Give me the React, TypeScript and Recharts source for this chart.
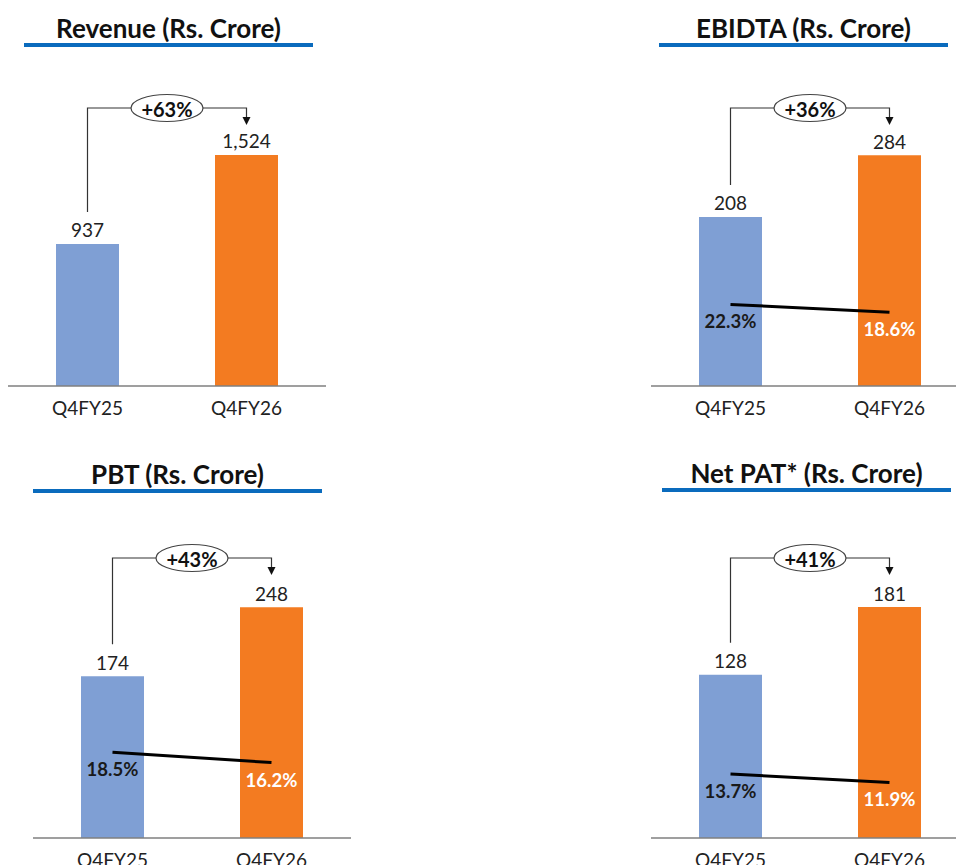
import {
  Bar,
  Cell,
  ComposedChart,
  LabelList,
  Line,
  ReferenceLine,
  XAxis,
  YAxis,
} from "recharts";

const categories = ["Q4FY25", "Q4FY26"];

const revenue = [937, 1524];
const ebitda = [208, 284];
const pbt = [174, 248];
const pat = [128, 181];

const ebitdaMargin = [22.3, 18.6];
const pbtMargin = [18.5, 16.2];
const patMargin = [13.7, 11.9];

const growthLabels = ["+63%", "+36%", "+43%", "+41%"];
const titles = [
  "Revenue (Rs. Crore)",
  "EBIDTA (Rs. Crore)",
  "PBT (Rs. Crore)",
  "Net PAT* (Rs. Crore)",
];

const barColors = ["#7F9FD4", "#F37B21"];
const FONT = "Lato, 'Open Sans', sans-serif";

type PanelProps = {
  title: string;
  values: number[];
  margins?: number[];
  growth: string;
  left: number;
  top: number;
  width: number;
  height: number;
  ml: number;
  mr: number;
  mb: number;
  max: number;
  marginDomain?: [number, number];
  titleLeft: number;
  titleTop: number;
};

function pos(props: any) {
  const vb = props.viewBox || {};
  return {
    x: props.x ?? vb.x ?? 0,
    y: props.y ?? vb.y ?? 0,
    width: props.width ?? vb.width ?? 0,
  };
}

function ValueLabel(props: any) {
  const { x, y, width } = pos(props);
  return (
    <text
      x={x + width / 2}
      y={y - 14}
      textAnchor="middle"
      dominantBaseline="central"
      fontSize={19}
      fill="#222"
      fontFamily={FONT}
    >
      {Number(props.value).toLocaleString("en-US")}
    </text>
  );
}

function MarginLabel(props: any) {
  const { x, y } = pos(props);
  return (
    <text
      x={x}
      y={y + 17}
      textAnchor="middle"
      dominantBaseline="central"
      fontSize={18.5}
      fontWeight="bold"
      fill={props.index === 0 ? "#1a1a1a" : "#ffffff"}
      fontFamily={FONT}
    >
      {Number(props.value).toFixed(1)}%
    </text>
  );
}

function CategoryTick(props: any) {
  return (
    <text
      x={props.x}
      y={props.y + 21}
      textAnchor="middle"
      dominantBaseline="central"
      fontSize={19}
      fill="#222"
      fontFamily={FONT}
    >
      {props.payload.value}
    </text>
  );
}

// bracket from the first bar up and over to the second one, with the growth bubble
function Bracket(props: any) {
  const { x1, y1, x2, y2, label } = props;
  const mid = (x1 + x2) / 2;
  return (
    <g>
      <polyline
        points={`${x1},${y1 - 32} ${x1},${y2} ${x2},${y2} ${x2},${y2 + 9}`}
        fill="none"
        stroke="#333"
        strokeWidth={1.2}
      />
      <polygon
        points={`${x2 - 4},${y2 + 9} ${x2 + 4},${y2 + 9} ${x2},${y2 + 17}`}
        fill="#111"
      />
      <ellipse
        cx={mid}
        cy={y2}
        rx={36}
        ry={13.5}
        fill="#fff"
        stroke="#444"
        strokeWidth={1.2}
      />
      <text
        x={mid}
        y={y2 + 1}
        textAnchor="middle"
        dominantBaseline="central"
        fontSize={20}
        fontWeight="bold"
        fill="#111"
        fontFamily={FONT}
      >
        {label}
      </text>
    </g>
  );
}

function Panel(p: PanelProps) {
  const data = categories.map((c, i) => ({
    cat: c,
    value: p.values[i],
    margin: p.margins ? p.margins[i] : undefined,
  }));

  return (
    <>
      <div
        style={{
          position: "absolute",
          left: p.titleLeft,
          top: p.titleTop,
          width: 289,
          height: 30,
          lineHeight: "30px",
          textAlign: "center",
          fontFamily: FONT,
          fontWeight: "bold",
          fontSize: 26,
          color: "#111",
          whiteSpace: "nowrap",
          borderBottom: "4px solid #0A6BBD",
        }}
      >
        {p.title}
      </div>
      <div style={{ position: "absolute", left: p.left, top: p.top }}>
        <ComposedChart
          width={p.width}
          height={p.height}
          data={data}
          margin={{ top: 108, right: p.mr, bottom: p.mb, left: p.ml }}
        >
          <XAxis
            dataKey="cat"
            height={24}
            interval={0}
            tickLine={false}
            tickSize={0}
            tickMargin={0}
            axisLine={{ stroke: "#7f7f7f", strokeWidth: 1.5 }}
            tick={<CategoryTick />}
          />
          <YAxis yAxisId="v" hide domain={[0, p.max]} allowDataOverflow />
          <YAxis
            yAxisId="m"
            hide
            orientation="right"
            domain={p.marginDomain ?? [0, 100]}
            allowDataOverflow
          />
          <Bar
            yAxisId="v"
            dataKey="value"
            barSize={63}
            isAnimationActive={false}
          >
            {data.map((d, i) => (
              <Cell key={d.cat} fill={barColors[i]} />
            ))}
            <LabelList dataKey="value" content={<ValueLabel />} />
          </Bar>
          {p.margins && (
            <Line
              yAxisId="m"
              dataKey="margin"
              stroke="#000"
              strokeWidth={3}
              dot={false}
              activeDot={false}
              isAnimationActive={false}
            >
              <LabelList dataKey="margin" content={<MarginLabel />} />
            </Line>
          )}
          <ReferenceLine
            yAxisId="v"
            ifOverflow="visible"
            segment={[
              { x: categories[0], y: p.values[0] },
              { x: categories[1], y: p.max },
            ]}
            shape={(sp: any) => <Bracket {...sp} label={p.growth} />}
          />
        </ComposedChart>
      </div>
    </>
  );
}

export default function App() {
  return (
    <div
      style={{
        position: "absolute",
        left: 0,
        top: 0,
        width: 956,
        height: 865,
        overflow: "hidden",
        background: "#fff",
      }}
    >
      <Panel
        title={titles[0]}
        values={revenue}
        growth={growthLabels[0]}
        left={0}
        top={0}
        width={330}
        height={430}
        ml={8}
        mr={4}
        mb={20}
        max={1834}
        titleLeft={24}
        titleTop={13}
      />
      <Panel
        title={titles[1]}
        values={ebitda}
        margins={ebitdaMargin}
        growth={growthLabels[1]}
        left={640}
        top={0}
        width={340}
        height={430}
        ml={11}
        mr={11}
        mb={20}
        max={342}
        marginDomain={[-17, 117]}
        titleLeft={659}
        titleTop={13}
      />
      <Panel
        title={titles[2]}
        values={pbt}
        margins={pbtMargin}
        growth={growthLabels[2]}
        left={0}
        top={450}
        width={360}
        height={420}
        ml={33}
        mr={9}
        mb={8}
        max={301}
        marginDomain={[-0.5, 61.5]}
        titleLeft={33}
        titleTop={459}
      />
      <Panel
        title={titles[3]}
        values={pat}
        margins={patMargin}
        growth={growthLabels[3]}
        left={640}
        top={450}
        width={340}
        height={420}
        ml={11}
        mr={11}
        mb={8}
        max={219.4}
        marginDomain={[0, 60]}
        titleLeft={662}
        titleTop={458}
      />
    </div>
  );
}
